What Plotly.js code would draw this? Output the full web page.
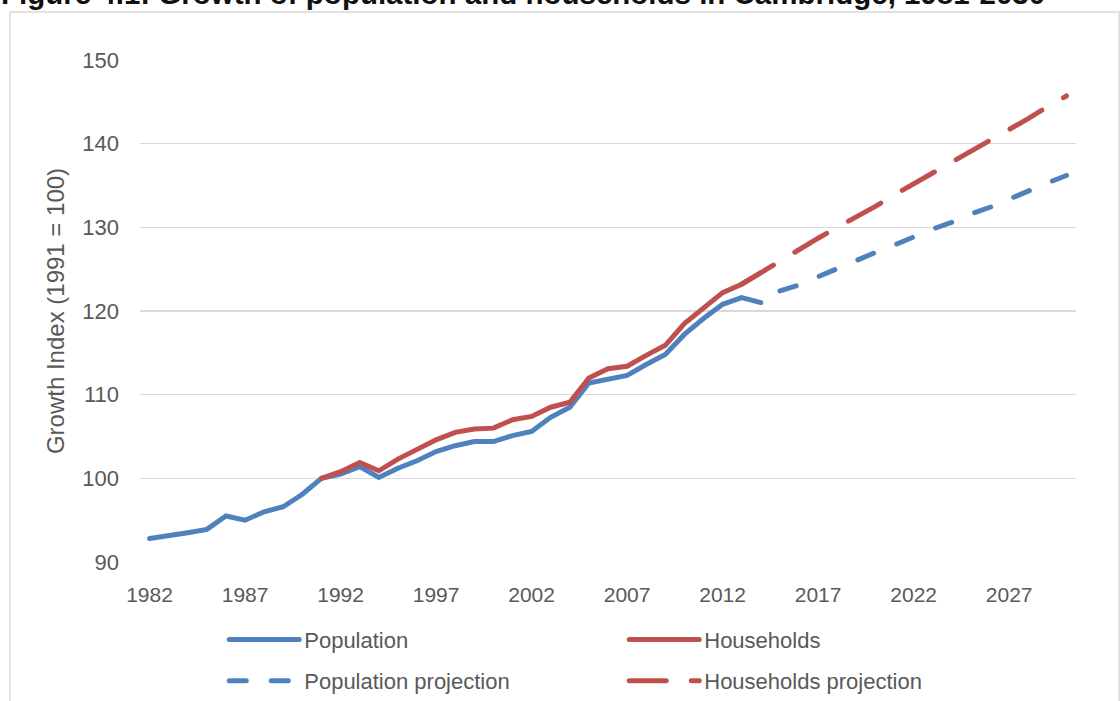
<!DOCTYPE html>
<html>
<head>
<meta charset="utf-8">
<script src="https://cdn.plot.ly/plotly-3.0.1.min.js"></script>
<style>
  html, body { margin: 0; padding: 0; background: #fff; }
  #chart { width: 1120px; height: 701px; }
  path.js-line { stroke-linecap: round; }
</style>
</head>
<body>
<div id="chart"></div>
<script>
// growth index, 1991 = 100
const popYears = [1982, 1983, 1984, 1985, 1986, 1987, 1988, 1989, 1990, 1991, 1992, 1993, 1994, 1995, 1996, 1997,
  1998, 1999, 2000, 2001, 2002, 2003, 2004, 2005, 2006, 2007, 2008, 2009, 2010, 2011, 2012, 2013, 2014];
const population = [92.8, 93.1, 93.5, 93.9, 95.5, 95.0, 96.0, 96.6, 98.1, 100.0, 100.5, 101.4, 100.1, 101.2, 102.1, 103.2,
  103.9, 104.4, 104.4, 105.1, 105.6, 107.3, 108.5, 111.4, 111.9, 112.3, 113.6, 114.8, 117.2, 119.1, 120.8, 121.6, 121.0];

const hhYears = [1991, 1992, 1993, 1994, 1995, 1996, 1997, 1998, 1999, 2000, 2001, 2002, 2003, 2004, 2005, 2006,
  2007, 2008, 2009, 2010, 2011, 2012, 2013, 2014];
const households = [100.0, 100.8, 101.9, 100.9, 102.3, 103.4, 104.6, 105.5, 105.9, 106.0, 107.0, 107.4, 108.5, 109.1, 112.0, 113.1,
  113.4, 114.7, 115.9, 118.5, 120.3, 122.2, 123.2, 124.6];

const popProjYears = [2015, 2016, 2017, 2018, 2019, 2020, 2021, 2022, 2023, 2024, 2025, 2026, 2027, 2028, 2029, 2030];
const popProjection = [122.4, 123.1, 124.1, 125.1, 126.0, 127.0, 127.9, 128.9, 129.8, 130.6, 131.6, 132.4, 133.4, 134.3, 135.3, 136.2];

const hhProjYears = [2013, 2014, 2015, 2016, 2017, 2018, 2019, 2020, 2021, 2022, 2023, 2024, 2025, 2026, 2027, 2028, 2029, 2030];
const hhProjection = [123.2, 124.6, 125.9, 127.3, 128.7, 130.0, 131.2, 132.5, 133.9, 135.2, 136.5, 137.7, 139.0, 140.3, 141.6, 143.0, 144.4, 145.7];

const xTicks = [1982, 1987, 1992, 1997, 2002, 2007, 2012, 2017, 2022, 2027];
const yTicks = [90, 100, 110, 120, 130, 140, 150];

const BLUE = '#4F81BD';
const RED = '#C0504D';
const TEXT = '#595959';
const FONT = 'Liberation Sans, Arial, sans-serif';

const traces = [
  {x: popYears, y: population, name: 'Population', mode: 'lines', legend: 'legend',
   line: {color: BLUE, width: 5}},
  {x: hhYears, y: households, name: 'Households', mode: 'lines', legend: 'legend',
   line: {color: RED, width: 5}},
  {x: popProjYears, y: popProjection, name: 'Population projection', mode: 'lines', legend: 'legend2',
   line: {color: BLUE, width: 5, dash: '17px,25px'}},
  {x: hhProjYears, y: hhProjection, name: 'Households projection', mode: 'lines', legend: 'legend2',
   line: {color: RED, width: 5, dash: '37px,25px'}}
];

const legendStyle = {
  orientation: 'h', xanchor: 'left', yanchor: 'middle', x: 0.09,
  entrywidth: 315, entrywidthmode: 'pixels', itemwidth: 70,
  font: {family: FONT, size: 22, color: TEXT}, bgcolor: 'rgba(0,0,0,0)'
};

const layout = {
  width: 1120, height: 701,
  margin: {l: 140, r: 44, t: 60, b: 139, autoexpand: false},
  paper_bgcolor: '#fff', plot_bgcolor: '#fff',
  font: {family: FONT, color: TEXT},
  showlegend: true,
  xaxis: {
    range: [1981.5, 2030.5], tickvals: xTicks, ticktext: xTicks.map(String),
    showgrid: false, zeroline: false, showline: false, ticks: '',
    ticklabelstandoff: 18,
    tickfont: {family: FONT, size: 21, color: TEXT}
  },
  yaxis: {
    range: [90, 150], tickvals: yTicks, showgrid: true, gridcolor: '#D9D9D9', gridwidth: 1.5,
    zeroline: false, showline: false, ticks: '', ticklabelstandoff: 20,
    tickfont: {family: FONT, size: 22, color: TEXT},
    title: {text: 'Growth Index (1991 = 100)', standoff: 10, font: {family: FONT, size: 24, color: TEXT}}
  },
  legend: Object.assign({}, legendStyle, {y: -0.155}),
  legend2: Object.assign({}, legendStyle, {y: -0.237}),
  annotations: [
    {text: '<b>Figure 4.1: Growth of population and households in Cambridge, 1981-2030</b>',
     xref: 'paper', yref: 'paper', x: -0.1496, y: 1.098, xanchor: 'left', yanchor: 'bottom',
     showarrow: false, borderpad: 0,
     font: {family: 'Liberation Sans, Arial, sans-serif', size: 29.5, color: '#111'}}
  ],
  shapes: [
    {type: 'rect', xref: 'paper', yref: 'paper', x0: -0.1389, x1: 1.046, y0: -0.4, y1: 1.0956,
     line: {color: '#D9D9D9', width: 1.5}, layer: 'below'}
  ]
};

Plotly.newPlot('chart', traces, layout, {displayModeBar: false, staticPlot: true});
</script>
</body>
</html>
